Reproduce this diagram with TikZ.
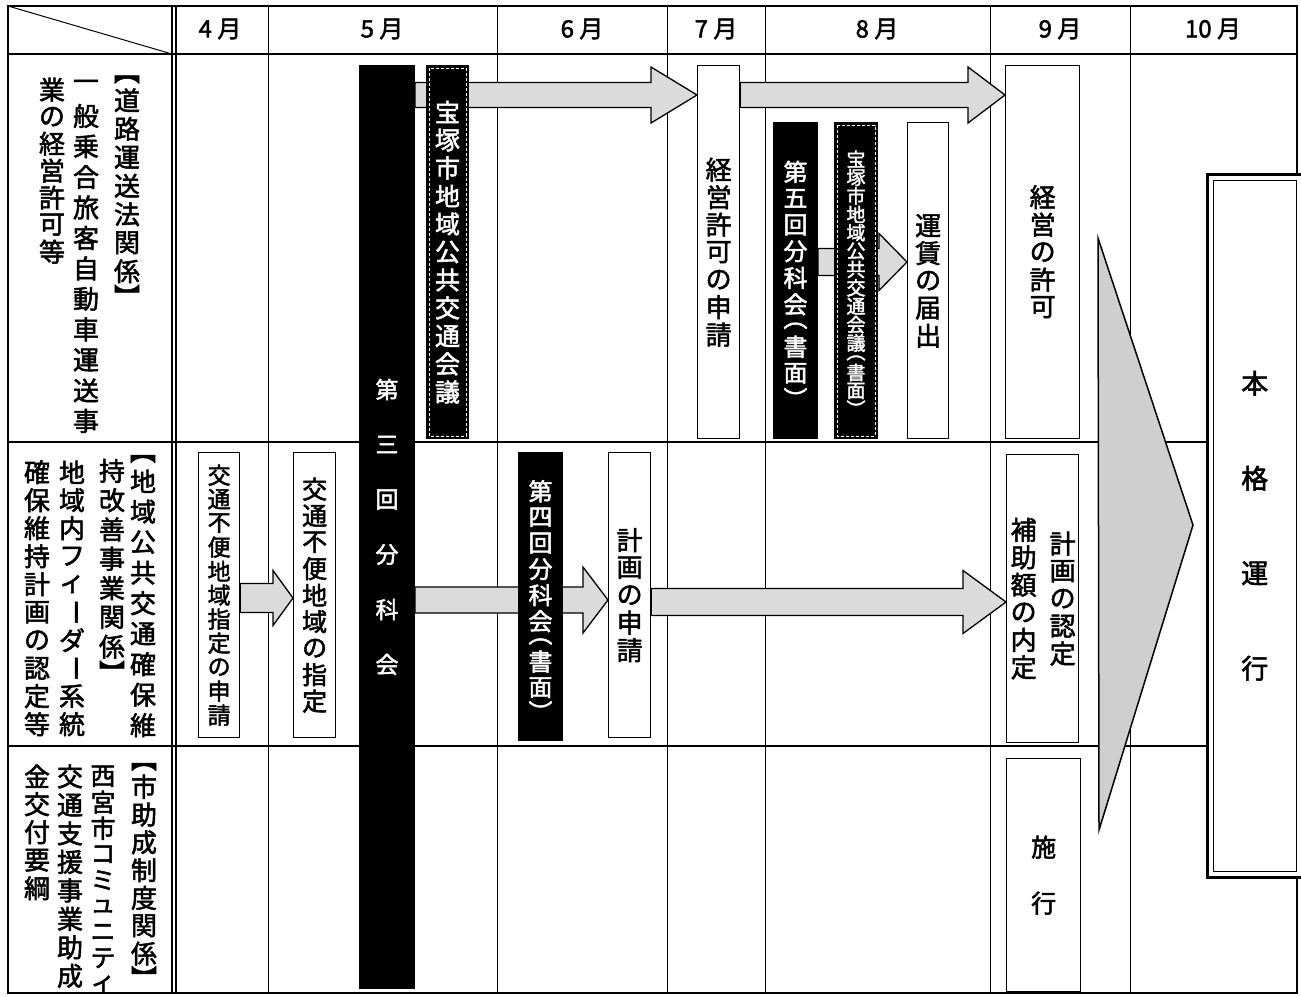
\documentclass[tikz,border=0pt]{standalone}
\usepackage{fontspec}
\newfontfamily\jp[FakeBold=2]{Noto Sans CJK JP}
\usetikzlibrary{calc}
\pgfdeclarelayer{grid}
\pgfdeclarelayer{arrows}
\pgfsetlayers{grid,arrows,main}
\makeatletter
\newdimen\vc@p
\newcommand\vcol[2]{\vc@p=#1pt\relax
  \vbox{\offinterlineskip
    \@tfor\vc@c:=#2\do{%
      \gdef\vc@f{1}%
      \setbox0\hbox{\vc@c}%
      \vbox to \vc@f\vc@p{\vss\hbox to \vc@p{\hss\box0\hss}\vss}}}}
\newcommand\hf[2][0.45]{\gdef\vc@f{#1}#2}
\makeatother
% opening / closing full-width brackets turned for vertical setting
\newcommand\ob[1]{\rotatebox[origin=c]{-90}{\hbox to .5em{\hss\hbox to 1em{#1\hss}}}}
\newcommand\cb[1]{\rotatebox[origin=c]{-90}{\hbox to .5em{\hbox to 1em{#1\hss}\hss}}}
\newcommand\lv{\rotatebox[origin=c]{-90}{ー}}
\newcommand\fs[1]{\fontsize{#1}{#1}\selectfont}
\newcommand\harr[5]{%
  \filldraw[arr] let \p1=(#1), \p2=(#2) in
   (\x1,{\y2+#3pt}) -- ({\x2-#5pt},{\y2+#3pt}) -- ({\x2-#5pt},{\y2+#4pt}) -- (\x2,\y2)
   -- ({\x2-#5pt},{\y2-#4pt}) -- ({\x2-#5pt},{\y2-#3pt}) -- (\x1,{\y2-#3pt}) -- cycle;}
\begin{document}
\begin{tikzpicture}[x=1pt,y=-1pt,
  wbox/.style={draw=black,line width=1.3pt,fill=white,inner sep=0pt,anchor=north west},
  bbox/.style={draw=black,line width=1pt,fill=black,text=white,inner sep=0pt,anchor=north west},
  dbox/.style={bbox,path picture={\draw[white,densely dashed,line width=0.7pt] ([shift={(2.5pt,-2.5pt)}]path picture bounding box.north west) rectangle ([shift={(-2.5pt,2.5pt)}]path picture bounding box.south east);}},
  hdr/.style={font=\jp\fs{24},inner sep=0pt},
  lab/.style={font=\jp\fs{26},inner sep=0pt,anchor=north},
  gridline/.style={line width=1pt},
  arr/.style={fill=gray!28,draw=black,line width=1.3pt,line join=miter},
]
\useasboundingbox (0,0) rectangle (1301,996);
\begin{pgfonlayer}{grid}
  \draw[line width=2.5pt] (8,6) rectangle (1297,993);
  \draw[line width=1.8pt] (8,54) -- (1297,54);
  \draw[line width=1.2pt] (172,6) -- (172,993) (176,6) -- (176,993);
  \foreach \x in {268,497,667,765,990,1130} \draw[gridline] (\x,6) -- (\x,993);
  \draw[line width=1.3pt] (8,442) -- (1297,442) (8,746) -- (1297,746);
  \draw[gridline] (8,6) -- (172,54);
\end{pgfonlayer}
% month headers
\node[hdr] (m4) at (220,29) {4 月};
\node[hdr] (m5) at (382,29) {5 月};
\node[hdr] (m6) at (582,29) {6 月};
\node[hdr] (m7) at (716,29) {7 月};
\node[hdr] (m8) at (877,29) {8 月};
\node[hdr] (m9) at (1060,29) {9 月};
\node[hdr] (m10) at (1213,29) {10 月};
% row headers
\node[lab] (r1a) at (127,73) {\vcol{28.5}{{\hf{\ob{【}}}道路運送法関係{\hf{\cb{】}}}}};
\node[lab] (r1b) at (86,70) {\vcol{30.5}{一般乗合旅客自動車運送事}};
\node[lab] (r1c) at (52,76) {\vcol{27}{業の経営許可等}};
\node[lab] (r2a) at (143,452) {\vcol{30.5}{{\hf{\ob{【}}}地域公共交通確保維}};
\node[lab] (r2b) at (112,456) {\vcol{29.3}{持改善事業関係{\hf{\cb{】}}}}};
\node[lab] (r2c) at (72,458) {\vcol{28}{地域内フィ{\lv}ダ{\lv}系統}};
\node[lab] (r2d) at (37,458) {\vcol{28}{確保維持計画の認定等}};
\node[lab] (r3a) at (144,761) {\vcol{27.8}{{\hf[0.42]{\ob{【}}}市助成制度関係{\hf[0.42]{\cb{】}}}}};
\node[lab,font=\jp\fs{25}] (r3b) at (103,763) {\vcol{26}{西宮市コミュニティ}};
\node[lab] (r3c) at (70,762) {\vcol{28.5}{交通支援事業助成}};
\node[lab] (r3d) at (37,762) {\vcol{28}{金交付要綱}};
% row 1
\node[bbox,minimum width=43pt,minimum height=923pt,font=\jp\fs{23}] (bar3) at (359,65) {\vcol{55}{第三回分科会}};
\node[dbox,minimum width=42pt,minimum height=373pt,font=\jp\fs{25}] (kaigi1) at (426,65) {\vcol{28}{宝塚市地域公共交通会議}};
\node[wbox,minimum width=42pt,minimum height=373pt,font=\jp\fs{26}] (apply) at (697,65) {\vcol{27.5}{経営許可の申請}};
\node[bbox,minimum width=44pt,minimum height=316pt,font=\jp\fs{24}] (go5) at (773,122) {\vcol{26.5}{第五回分科会{\hf[0.6]{\ob{（}}}書面{\hf[0.6]{\cb{）}}}}};
\node[dbox,minimum width=43pt,minimum height=316pt,font=\jp\fs{19}] (kaigi2) at (834,122) {\vcol{18.4}{宝塚市地域公共交通会議{\hf[0.6]{\ob{（}}}書面{\hf[0.6]{\cb{）}}}}};
\node[wbox,minimum width=41pt,minimum height=316pt,font=\jp\fs{26}] (fare) at (907,122) {\vcol{27.5}{運賃の届出}};
\node[wbox,minimum width=74pt,minimum height=373pt,font=\jp\fs{26}] (permit) at (1005,65) {\vcol{27.5}{経営の許可}};
% row 2
\node[wbox,minimum width=41pt,minimum height=285pt,font=\jp\fs{23}] (req) at (198,452) {\vcol{24}{交通不便地域指定の申請}};
\node[wbox,minimum width=42pt,minimum height=285pt,font=\jp\fs{25}] (desig) at (293,452) {\vcol{26.5}{交通不便地域の指定}};
\node[bbox,minimum width=44pt,minimum height=288pt,font=\jp\fs{24}] (go4) at (518,452) {\vcol{26}{第四回分科会{\hf[0.55]{\ob{（}}}書面{\hf[0.55]{\cb{）}}}}};
\node[wbox,minimum width=42pt,minimum height=285pt,font=\jp\fs{26}] (plan) at (608,452) {\vcol{27.5}{計画の申請}};
\node[wbox,minimum width=72pt,minimum height=288pt] (cert) at (1006,454) {};
\node[font=\jp\fs{26},inner sep=0pt] (certa) at ($(cert.center)+(20,0)$) {\vcol{27.5}{計画の認定}};
\node[font=\jp\fs{26},inner sep=0pt] (certb) at ($(cert.center)+(-19,0)$) {\vcol{27.5}{補助額の内定}};
% row 3
\node[wbox,minimum width=74pt,minimum height=233pt,font=\jp\fs{25}] (exec) at (1006,758) {\vcol{56}{施行}};
% final
\node[wbox,line width=2.5pt,minimum width=79pt,minimum height=703pt,font=\jp\fs{27},
  path picture={\draw[line width=1.3pt] ([shift={(6pt,-6pt)}]path picture bounding box.north west) rectangle ([shift={(-6pt,6pt)}]path picture bounding box.south east);}]
  (honkaku) at (1206,173) {\vcol{95}{本格運行}};
% arrows
\begin{pgfonlayer}{arrows}
  \harr{$(bar3.north east)+(0,30)$}{$(apply.north west)+(0,30)$}{12.5}{28}{46}
  \harr{$(apply.north east)+(0,30)$}{$(permit.north west)+(0,30)$}{12.5}{28}{37}
  \harr{$(go5.north east)+(0,140)$}{$(fare.north west)+(0,140)$}{13.5}{28.5}{28}
  \harr{$(req.north east)+(0,146)$}{$(desig.north west)+(0,146)$}{14.5}{27.5}{20}
  \harr{$(bar3.north east)+(0,535)$}{$(plan.north west)+(0,148)$}{13}{33}{25}
  \harr{$(plan.north east)+(0,150)$}{$(cert.north west)+(0,148)$}{13.5}{31.5}{43}
  \coordinate (tA) at (1098,238);
  \coordinate (tB) at (1193,525);
  \coordinate (tC) at (1099,830);
  \filldraw[fill=gray!38,draw=black,line width=1.5pt,line join=miter] (tA) -- (tB) -- (tC) -- cycle;
\end{pgfonlayer}
\end{tikzpicture}
\end{document}
